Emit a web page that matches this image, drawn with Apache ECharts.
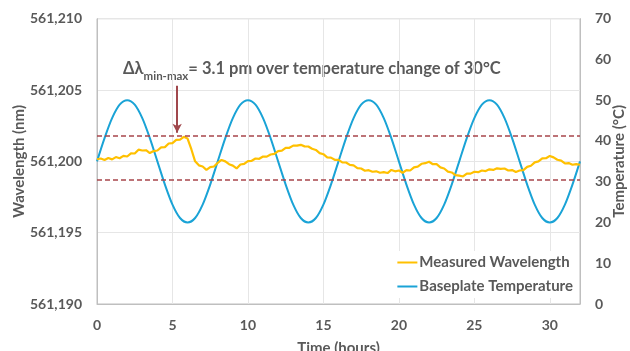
<!DOCTYPE html>
<html>
<head>
<meta charset="utf-8">
<script src="https://cdn.jsdelivr.net/npm/echarts@6/dist/echarts.min.js"></script>
<style>html,body{margin:0;padding:0;background:#fff}#c{width:630px;height:351px}</style>
</head>
<body>
<div id="c"></div>
<script>
// Time (hours) for the wavelength trace
const timeW = [0,0.25,0.5,0.75,1,1.25,1.5,1.75,2,2.25,2.5,2.75,3,3.25,3.5,3.75,4,4.25,4.5,4.75,5,5.25,5.5,5.75,6,6.25,6.5,6.75,7,7.25,7.5,7.75,8,8.25,8.5,8.75,9,9.25,9.5,9.75,10,10.25,10.5,10.75,11,11.25,11.5,11.75,12,12.25,12.5,12.75,13,13.25,13.5,13.75,14,14.25,14.5,14.75,15,15.25,15.5,15.75,16,16.25,16.5,16.75,17,17.25,17.5,17.75,18,18.25,18.5,18.75,19,19.25,19.5,19.75,20,20.25,20.5,20.75,21,21.25,21.5,21.75,22,22.25,22.5,22.75,23,23.25,23.5,23.75,24,24.25,24.5,24.75,25,25.25,25.5,25.75,26,26.25,26.5,26.75,27,27.25,27.5,27.75,28,28.25,28.5,28.75,29,29.25,29.5,29.75,30,30.25,30.5,30.75,31,31.25,31.5,31.75,32];
// Measured wavelength, in pm (561,200 = 561.200 nm)
const wavelength = [561200.15,561200.20,561200.10,561200.24,561200.14,561200.30,561200.22,561200.38,561200.34,561200.56,561200.55,561200.82,561200.76,561200.78,561200.58,561200.72,561200.76,561200.98,561201.00,561201.25,561201.28,561201.50,561201.52,561201.72,561201.60,561200.85,561200.00,561199.72,561199.64,561199.40,561199.60,561199.64,561199.90,561200.10,561200.00,561199.80,561199.70,561199.50,561199.78,561199.82,561200.02,561200.04,561200.20,561200.18,561200.34,561200.33,561200.48,561200.52,561200.72,561200.75,561200.94,561200.95,561201.10,561201.10,561201.16,561201.05,561201.04,561200.88,561200.80,561200.58,561200.50,561200.28,561200.26,561200.11,561200.10,561199.93,561199.92,561199.75,561199.72,561199.53,561199.50,561199.34,561199.38,561199.27,561199.30,561199.20,561199.24,561199.18,561199.40,561199.30,561199.36,561199.20,561199.38,561199.36,561199.58,561199.63,561199.83,561199.87,561199.97,561199.80,561199.80,561199.58,561199.50,561199.28,561199.22,561199.03,561199.00,561198.94,561199.14,561199.14,561199.27,561199.24,561199.36,561199.32,561199.44,561199.40,561199.51,561199.47,561199.50,561199.36,561199.39,561199.26,561199.36,561199.38,561199.61,561199.69,561199.93,561200.00,561200.21,561200.22,561200.38,561200.28,561200.11,561200.05,561199.85,561199.88,561199.76,561199.81,561199.76];
// Time (hours) for the temperature trace
const timeT = [0,0.5,1,1.5,2,2.5,3,3.5,4,4.5,5,5.5,6,6.5,7,7.5,8,8.5,9,9.5,10,10.5,11,11.5,12,12.5,13,13.5,14,14.5,15,15.5,16,16.5,17,17.5,18,18.5,19,19.5,20,20.5,21,21.5,22,22.5,23,23.5,24,24.5,25,25.5,26,26.5,27,27.5,28,28.5,29,29.5,30,30.5,31,31.5,32];
// Baseplate temperature (°C)
const temperature = [35,40.7,45.6,48.9,50,48.9,45.6,40.7,35,29.3,24.4,21.1,20,21.1,24.4,29.3,35,40.7,45.6,48.9,50,48.9,45.6,40.7,35,29.3,24.4,21.1,20,21.1,24.4,29.3,35,40.7,45.6,48.9,50,48.9,45.6,40.7,35,29.3,24.4,21.1,20,21.1,24.4,29.3,35,40.7,45.6,48.9,50,48.9,45.6,40.7,35,29.3,24.4,21.1,20,21.1,24.4,29.3,35];
// Reference levels (min/max of wavelength) and arrow annotation
const maxLevel = 561201.8;
const minLevel = 561198.7;
const arrowT = 5.31, arrowFrom = 561205.3, arrowTo = 561202.0;
const seriesNames = ['Measured Wavelength', 'Baseplate Temperature'];

const FONT = 'Lato, "Open Sans", sans-serif';
const GREY = '#595959';
const chart = echarts.init(document.getElementById('c'), null, {renderer: 'canvas'});
chart.setOption({
  animation: false,
  textStyle: {fontFamily: FONT},
  grid: {left: 97, right: 50, top: 18.7, bottom: 47, show: true, borderColor: '#bfbfbf', borderWidth: 1,
         containLabel: false, outerBoundsMode: 'none'},
  xAxis: {
    type: 'value', min: 0, max: 32, interval: 5,
    name: 'Time (hours)', nameLocation: 'middle', nameGap: 37, nameMoveOverlap: false,
    nameTextStyle: {color: GREY, fontSize: 15, fontWeight: 'bold', fontFamily: FONT},
    axisLine: {show: true, lineStyle: {color: '#bfbfbf'}},
    axisTick: {show: false},
    axisLabel: {color: GREY, fontSize: 14, fontWeight: 'bold', margin: 14, showMaxLabel: false, fontFamily: FONT},
    splitLine: {show: true, lineStyle: {color: '#e6e6e6', width: 1}}
  },
  yAxis: [{
    type: 'value', min: 561190, max: 561210, interval: 5,
    name: 'Wavelength (nm)', nameLocation: 'middle', nameGap: 70, nameRotate: 90, nameMoveOverlap: false,
    nameTextStyle: {color: GREY, fontSize: 15, fontWeight: 'bold', fontFamily: FONT},
    axisLine: {show: true, lineStyle: {color: '#bfbfbf'}},
    axisTick: {show: false},
    axisLabel: {color: GREY, fontSize: 14, fontWeight: 'bold', margin: 15, fontFamily: FONT,
      formatter: v => String(v).replace(/(\d{3})$/, ',$1')},
    splitLine: {show: true, lineStyle: {color: '#e6e6e6', width: 1}}
  }, {
    type: 'value', min: 0, max: 70, interval: 10, position: 'right',
    name: 'Temperature (°C)', nameLocation: 'middle', nameGap: 32, nameRotate: 90, nameMoveOverlap: false,
    nameTextStyle: {color: GREY, fontSize: 15, fontWeight: 'bold', fontFamily: FONT},
    axisLine: {show: true, lineStyle: {color: '#bfbfbf'}},
    axisTick: {show: false},
    axisLabel: {color: GREY, fontSize: 14, fontWeight: 'bold', margin: 15, fontFamily: FONT},
    splitLine: {show: false}
  }],
  legend: {
    orient: 'vertical', right: 55, bottom: 53,
    backgroundColor: '#fff', padding: [4, 2, 4, 4], itemGap: 9,
    icon: 'rect', itemWidth: 20, itemHeight: 2,
    textStyle: {color: GREY, fontSize: 15, fontWeight: 'bold', fontFamily: FONT, padding: [0, 0, 0, -3]},
    data: seriesNames
  },
  series: [{
    name: seriesNames[0], type: 'line', yAxisIndex: 0, showSymbol: false,
    data: timeW.map((t, i) => [t, wavelength[i]]),
    lineStyle: {color: '#FFC000', width: 2.2}, itemStyle: {color: '#FFC000'},
    z: 3,
    markLine: {
      silent: true, symbol: ['none', 'none'], label: {show: false},
      lineStyle: {color: '#A8464B', type: [5, 3], width: 1.6},
      data: [
        {yAxis: maxLevel}, {yAxis: minLevel},
        [{coord: [arrowT, arrowFrom], symbol: 'none', lineStyle: {type: 'solid', width: 2, color: '#A0474C'}},
         {coord: [arrowT, arrowTo], symbol: 'arrow', symbolSize: [7, 9]}]
      ]
    }
  }, {
    name: seriesNames[1], type: 'line', yAxisIndex: 1, showSymbol: false, smooth: 0.3,
    data: timeT.map((t, i) => [t, temperature[i]]),
    lineStyle: {color: '#1AA3D6', width: 2}, itemStyle: {color: '#1AA3D6'},
    z: 2
  }],
  graphic: [{
    type: 'text', left: 123, top: 60,
    style: {
      text: '{a|Δλ}{s|min-max}{a|= 3.1 pm over temperature change of 30°C}',
      rich: {
        a: {fontSize: 16.5, fontWeight: 'bold', fill: GREY, fontFamily: FONT, lineHeight: 20, verticalAlign: 'bottom'},
        s: {fontSize: 11.5, fontWeight: 'bold', fill: GREY, fontFamily: FONT, lineHeight: 20, verticalAlign: 'bottom', padding: [0, 0, -5, 0]}
      }
    }
  }]
});
</script>
</body>
</html>
